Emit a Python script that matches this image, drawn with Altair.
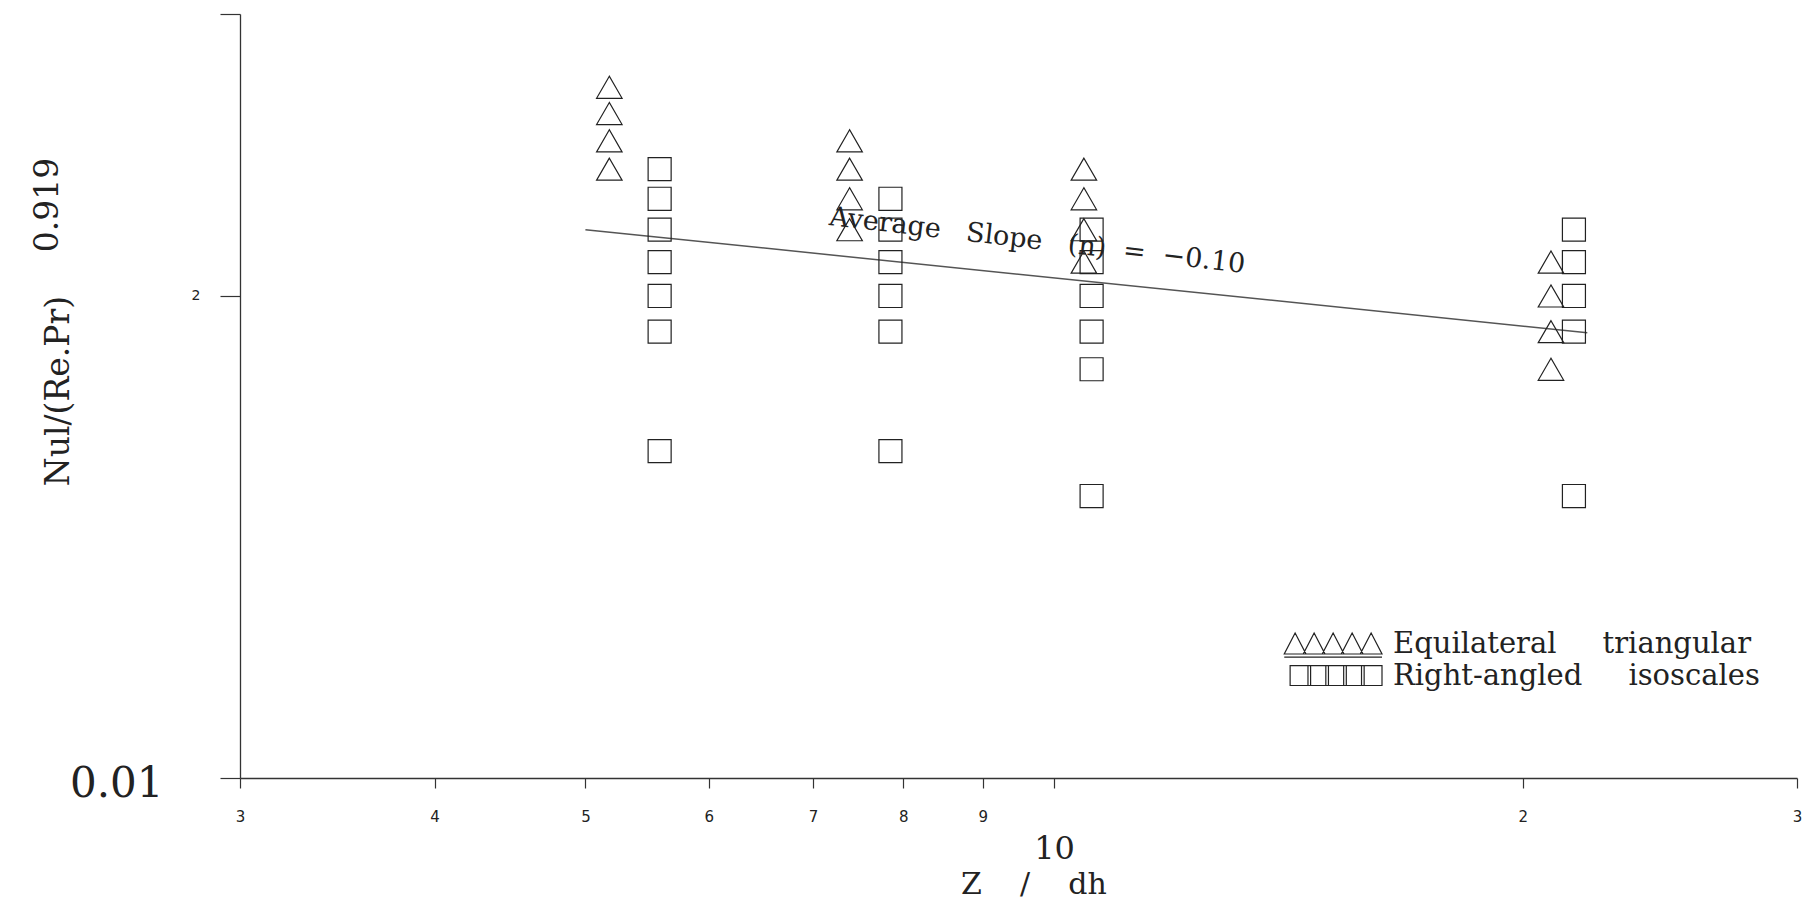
import altair as alt
import pandas as pd

# ---- data ----
tri_group_x = [5.18, 7.39, 10.45, 20.85]
tri_group_y = [
    [2.7, 2.6, 2.5, 2.4],
    [2.5, 2.4, 2.3, 2.2],
    [2.4, 2.3, 2.2, 2.1],
    [2.1, 2.0, 1.9, 1.8],
]
sq_group_x = [5.58, 7.85, 10.57, 21.57]
sq_group_y = [
    [2.4, 2.3, 2.2, 2.1, 2.0, 1.9, 1.6],
    [2.3, 2.2, 2.1, 2.0, 1.9, 1.6],
    [2.2, 2.1, 2.0, 1.9, 1.8, 1.5],
    [2.2, 2.1, 2.0, 1.9, 1.5],
]
fit_x = [5.0, 22.0]
fit_y = [2.2, 1.897]
slope_label = "Average\u00a0\u00a0\u00a0Slope\u00a0\u00a0\u00a0(n)\u00a0\u00a0=\u00a0\u00a0\u22120.10"
slope_label_x = [9.74]
slope_label_y = [2.14]
x_ticks = [3, 4, 5, 6, 7, 8, 9, 10, 20, 30]
y_ticks = [1, 2, 3]
series_names = [
    "Equilateral\u00a0\u00a0\u00a0\u00a0\u00a0triangular",
    "Right-angled\u00a0\u00a0\u00a0\u00a0\u00a0isoscales",
]

rows = []
for gx, ys in zip(tri_group_x, tri_group_y):
    for v in ys:
        rows.append({"x": gx, "y": v, "series": series_names[0]})
for gx, ys in zip(sq_group_x, sq_group_y):
    for v in ys:
        rows.append({"x": gx, "y": v, "series": series_names[1]})
df = pd.DataFrame(rows)
tri_df = df[df["series"] == series_names[0]]
sq_df = df[df["series"] == series_names[1]]
fit_df = pd.DataFrame({"x": fit_x, "y": fit_y})
lab_df = pd.DataFrame({"x": slope_label_x, "y": slope_label_y, "t": [slope_label]})

# ---- legend symbol paths (five overlapping symbols) ----
tri_parts = []
for k in range(5):
    c = -0.035 - 1.81 * k
    tri_parts.append(f"M{c:.3f},-1L{c + 1.035:.3f},1L{c - 1.035:.3f},1Z")
tri_parts.append("M-8.31,1.3L1,1.3")
tri_path = "".join(tri_parts)
sq_parts = []
for k in range(5):
    r = 1 - 1.7 * k
    l = r - 1.95
    sq_parts.append(f"M{l:.3f},-0.95H{r:.3f}V0.95H{l:.3f}Z")
sq_path = "".join(sq_parts)

INK = "#222222"
AX = "#333333"

xs = alt.Scale(type="log", domain=[3, 30], nice=False)
ys_ = alt.Scale(type="log", domain=[1, 3], nice=False)

xaxis = alt.Axis(
    values=x_ticks,
    labelExpr="datum.value == 10 ? '10' : substring(toString(datum.value), 0, 1)",
    labelFont={"condition": {"test": "datum.value == 10", "value": "DejaVu Serif"}, "value": "DejaVu Sans"},
    labelFontSize={"condition": {"test": "datum.value == 10", "value": 32}, "value": 15},
    labelPadding={"condition": {"test": "datum.value == 10", "value": 45}, "value": 21},
    labelBaseline="top",
    labelColor=INK,
    labelFlush=False,
    labelOverlap=False,
    labelBound=False,
    tickSize=10,
    tickColor=AX,
    tickWidth=1.2,
    domainColor=AX,
    domainWidth=1.3,
    grid=False,
    title="Z\u00a0\u00a0\u00a0\u00a0/\u00a0\u00a0\u00a0\u00a0dh",
    titleFont="DejaVu Serif",
    titleFontSize=30,
    titleFontWeight="normal",
    titleColor=INK,
    titleX=793.5,
    titleY=115,
    titleBaseline="alphabetic",
    titleAlign="center",
)
yaxis = alt.Axis(
    values=y_ticks,
    labelExpr="datum.value == 1 ? '0.01' : (datum.value == 2 ? '2' : '')",
    labelFont={"condition": {"test": "datum.value == 1", "value": "DejaVu Serif"}, "value": "DejaVu Sans"},
    labelFontSize={"condition": {"test": "datum.value == 1", "value": 42}, "value": 14},
    labelPadding={"condition": {"test": "datum.value == 1", "value": 57}, "value": 20},
    labelOffset={"condition": {"test": "datum.value == 1", "value": 5}, "value": 0},
    labelColor=INK,
    labelFlush=False,
    labelOverlap=False,
    labelBound=False,
    tickSize=20,
    tickColor=AX,
    tickWidth=1.2,
    domainColor=AX,
    domainWidth=1.3,
    grid=False,
    title="Nul/(Re.Pr)",
    titleFont="DejaVu Serif",
    titleFontSize=33,
    titleFontWeight="normal",
    titleColor=INK,
    titleAngle=270,
    titleX=-172,
    titleY=376.5,
    titleBaseline="alphabetic",
    titleAlign="center",
)

xenc = alt.X("x:Q", scale=xs, axis=xaxis)
yenc = alt.Y("y:Q", scale=ys_, axis=yaxis)

tri = alt.Chart(tri_df).mark_point(
    shape="triangle-up", size=650, filled=False, color=INK, opacity=1, strokeWidth=1.2
).encode(x=xenc, y=yenc)

sq = alt.Chart(sq_df).mark_point(
    shape="square", size=530, filled=False, color=INK, opacity=1, strokeWidth=1.2
).encode(x=xenc, y=yenc)

fit = alt.Chart(fit_df).mark_line(color="#555555", strokeWidth=1.5).encode(x=xenc, y=yenc)

slope_txt = alt.Chart(lab_df).mark_text(
    font="DejaVu Serif", fontSize=27, color=INK, angle=6.6, align="center", baseline="alphabetic"
).encode(x=xenc, y=yenc, text="t:N")

legend_layer = alt.Chart(df).transform_filter("datum.y < 0").mark_point(
    filled=False, color=INK, opacity=1
).encode(
    x=xenc,
    y=yenc,
    shape=alt.Shape(
        "series:N",
        scale=alt.Scale(domain=series_names, range=[tri_path, sq_path]),
        legend=alt.Legend(
            orient="none",
            legendX=1117,
            legendY=615,
            title=None,
            symbolSize=441,
            symbolStrokeColor=INK,
            symbolFillColor="transparent",
            symbolStrokeWidth=1.2,
            symbolOpacity=1,
            labelFont="DejaVu Serif",
            labelFontSize=29,
            labelColor=INK,
            labelOffset=7,
            labelLimit=0,
            rowPadding=1,
            padding=0,
        ),
    ),
)

sup = alt.Chart(pd.DataFrame({"t": ["0.919"]})).mark_text(
    font="DejaVu Serif", fontSize=33, color=INK, angle=270, align="center", baseline="alphabetic"
).encode(x=alt.value(-182), y=alt.value(191), text="t:N")

chart = alt.layer(fit, tri, sq, slope_txt, legend_layer, sup).properties(
    width=1557,
    height=764,
    autosize=alt.AutoSizeParams(type="none"),
    padding={"left": 232, "top": 6, "right": 7, "bottom": 121},
    background="white",
).configure_view(stroke=None)

chart.save("out.html", embed_options={"renderer": "svg", "actions": False})
